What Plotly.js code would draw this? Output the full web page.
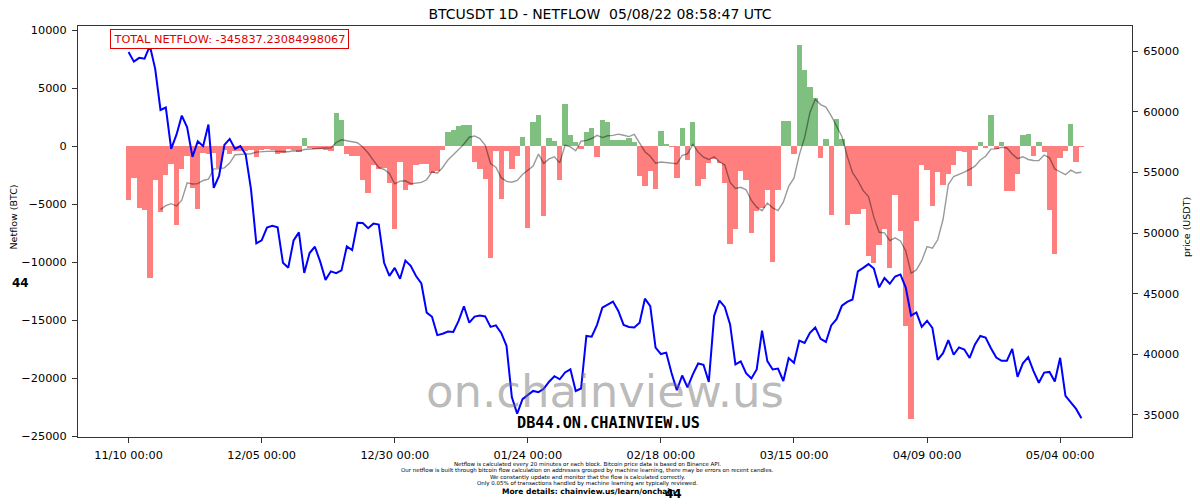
<!DOCTYPE html>
<html>
<head>
<meta charset="utf-8">
<script src="https://cdn.plot.ly/plotly-3.0.1.min.js"></script>
<style>
  html, body { margin: 0; padding: 0; background: #ffffff; }
  #chart { width: 1200px; height: 504px; }
</style>
</head>
<body>
<div id="chart"></div>
<script>
// Daily candles, first one opens 2021-11-10 00:00 UTC
const firstDay = [2021, 10, 10]; // year, month (0-based), day

// Exchange netflow per day (BTC)
const netflow = [
  -4650, -2700, -5350, -5460, -11380, -2870, -5630, -2440, -1490, -6780,
  -1930, -860, -3620, -5400, -575, -650, -600, -1900, -300, -700,
  -400, -450, -400, -350, -950, -300, -250, -350, -630, -600,
  -200, -350, -520, 700, -150, -250, -200, -300, -400, 2870,
  2300, -690, -800, -850, -2900, -4020, -1600, -1950, -1900, -3160,
  -7100, -1320, -3800, -3360, -1580, -1500, -1550, -2300, -2150, -350,
  1200, 1400, 1720, 1820, 1800, -1380, -1950, -2820, -9630, -430,
  -4540, -430, -1930, -860, 800, -7070, 2070, 2700, -6030, 720,
  430, -2870, 3680, 950, 350, -230, 1240, 1550, -950, 2300,
  2070, 575, 530, 560, 720, 345, -2590, -3450, -2150, -3680,
  1290, 230, -60, -2760, 1610, -1200, 2070, -3450, -2820, -1440,
  -1090, -1440, -3160, -8390, -7130, -2100, -2930, -7470, -5550, -5300,
  -3800, -10000, -3800, 2150, 2150, -630, 8760, 6610, 5090, 4170,
  -1000, 630, -5950, 2360, 630, -6780, -5830, -5830, -5400, -9480,
  -10060, -8480, -7130, -10490, -4220, -7270, -15520, -23480, -6470, -1580,
  -2010, -5110, -2240, -3300, -2400, -1600, -430, -520, -3450, -290,
  400, -140, 2670, -230, 400, -3880, -3880, -2390, 980, 1030,
  -860, 345, -520, -5460, -9250, -1000, -430, 1900, -1380, -60
];

// BTCUSDT daily price (USDT)
const price = [
  64949, 64155, 64469, 64398, 65466, 63557, 60161, 60368, 56942, 58119,
  59697, 58730, 56289, 57570, 57176, 58960, 53726, 54721, 57274, 57776,
  56951, 57184, 56481, 53601, 49152, 49396, 50441, 50589, 50472, 47545,
  47140, 49389, 50053, 46702, 48343, 48864, 47632, 46131, 46834, 46681,
  46914, 48889, 48588, 50838, 50820, 50399, 50775, 50701, 47543, 46464,
  47120, 46216, 47722, 47286, 46446, 45833, 43425, 43082, 41566, 41679,
  41864, 41822, 42735, 43949, 42592, 43099, 43177, 43113, 42250, 42375,
  41744, 40680, 36445, 35071, 36276, 36654, 36954, 36852, 37138, 37713,
  38170, 37917, 38483, 38743, 36952, 37154, 41500, 41441, 42412, 43840,
  44118, 44338, 43565, 42407, 42244, 42197, 42586, 44575, 43961, 40538,
  40000, 40118, 38431, 37017, 38230, 37250, 38328, 39219, 39116, 37700,
  43160, 44421, 43892, 42455, 39148, 39398, 38420, 37988, 38730, 41941,
  39422, 38730, 38807, 37777, 39671, 39280, 41114, 40917, 41757, 42201,
  41262, 41002, 42364, 42882, 43991, 44313, 44511, 46827, 47122, 47434,
  47067, 45510, 46283, 45811, 46407, 46580, 45497, 43170, 43444, 42252,
  42753, 42158, 39530, 40074, 41147, 39942, 40552, 40378, 39678, 40801,
  41494, 41358, 40480, 39709, 39441, 39450, 40426, 38112, 39235, 39742,
  38596, 37630, 38469, 38525, 37728, 39690, 36552, 36013, 35472, 34700
];

const tickDates = ['2021-11-10', '2021-12-05', '2021-12-30', '2022-01-24',
                   '2022-02-18', '2022-03-15', '2022-04-09', '2022-05-04'];
const tickLabels = ['11/10 00:00', '12/05 00:00', '12/30 00:00', '01/24 00:00',
                    '02/18 00:00', '03/15 00:00', '04/09 00:00', '05/04 00:00'];
const netflowTicks = [10000, 5000, 0, -5000, -10000, -15000, -20000, -25000];
const priceTicks = [35000, 40000, 45000, 50000, 55000, 60000, 65000];

const titleText = 'BTCUSDT 1D - NETFLOW \u00a005/08/22 08:58:47 UTC';
const totalLabel = 'TOTAL NETFLOW: -345837.23084998067';
const footerLines = [
  'Netflow is calculated every 20 minutes or each block. Bitcoin price data is based on Binance API.',
  'Our netflow is built through bitcoin flow calculation on addresses grouped by machine learning, there may be errors on recent candles.',
  'We constantly update and monitor that the flow is calculated correctly.',
  'Only 0.05% of transactions handled by machine learning are typically reviewed.'
];
const moreDetails = 'More details: chainview.us/learn/onchain';
const maWindow = 7;

// timestamps for each candle
const days = netflow.map((_, i) => {
  const d = new Date(Date.UTC(firstDay[0], firstDay[1], firstDay[2] + i));
  return d.toISOString().slice(0, 10);
});

// trailing moving average of the netflow
const maX = [], maY = [];
for (let i = maWindow - 1; i < netflow.length; i++) {
  let s = 0;
  for (let k = i - maWindow + 1; k <= i; k++) s += netflow[k];
  maX.push(days[i]);
  maY.push(s / maWindow);
}

const barColors = netflow.map(v => (v < 0 ? '#ff7f7f' : '#7fbf7f'));

// plain integer tick labels with a true minus sign, no digit grouping
const plainLabel = v => String(v).replace('-', '\u2212');

// plot box in page pixels
const plotL = 78, plotR = 1132, plotT = 26, plotB = 437;
const fx = x => (x - plotL) / (plotR - plotL);
const fy = y => (plotB - y) / (plotB - plotT);

const FONT = 'DejaVu Sans, sans-serif';
const axisColor = '#333333';

const traces = [
  {
    type: 'bar', x: days, y: netflow, width: 86400000,
    marker: { color: barColors, line: { width: 0 } },
    xaxis: 'x', yaxis: 'y', hoverinfo: 'skip'
  },
  {
    type: 'scatter', mode: 'lines', x: maX, y: maY,
    line: { color: 'rgba(0,0,0,0.4)', width: 1.4 },
    xaxis: 'x', yaxis: 'y', hoverinfo: 'skip'
  },
  {
    type: 'scatter', mode: 'lines', x: days, y: price,
    line: { color: '#0000ff', width: 2 },
    xaxis: 'x', yaxis: 'y2', hoverinfo: 'skip'
  }
];

function note(text, x, y, opts) {
  return Object.assign({
    text: text, xref: 'paper', yref: 'paper', x: fx(x), y: fy(y),
    xanchor: 'center', yanchor: 'middle', showarrow: false,
    font: { family: FONT, size: 10, color: '#000000' }
  }, opts || {});
}

const annotations = [
  note(totalLabel, 229, 38.8, {
    font: { family: FONT, size: 11.3, color: '#e00000' },
    bordercolor: '#e00000', borderwidth: 1, borderpad: 2.5, bgcolor: '#ffffff'
  }),
  note('on.chainview.us', 605, 391, {
    font: { family: FONT, size: 45, color: 'rgba(110,110,110,0.48)' }
  }),
  note('DB44.ON.CHAINVIEW.US', 608, 422.5, {
    font: { family: 'DejaVu Sans Mono, monospace', size: 15.2, color: '#000000', weight: 'bold' }
  }),
  note('Netflow (BTC)', 13, 217.5, {
    textangle: -90, font: { family: FONT, size: 9.5, color: '#000000' }
  }),
  note('price (USDT)', 1186.5, 227.5, {
    textangle: -90, font: { family: FONT, size: 9.5, color: '#000000' }
  }),
  note('44', 20, 283, { font: { family: FONT, size: 12, color: '#000000', weight: 'bold' } }),
  note(footerLines[0], 587, 464.3, { font: { family: FONT, size: 5.5, color: '#000000' } }),
  note(footerLines[1], 587, 470.8, { font: { family: FONT, size: 5.5, color: '#000000' } }),
  note(footerLines[2], 587, 477.3, { font: { family: FONT, size: 5.5, color: '#000000' } }),
  note(footerLines[3], 587, 483.7, { font: { family: FONT, size: 5.5, color: '#000000' } }),
  note(moreDetails, 588, 491.7, { font: { family: FONT, size: 7.5, color: '#000000', weight: 'bold' } }),
  note('44', 673.5, 494, { font: { family: FONT, size: 12, color: '#000000', weight: 'bold' } })
];

const baseAxis = {
  showgrid: false, zeroline: false, showline: true,
  linecolor: axisColor, linewidth: 1,
  ticks: 'outside', ticklen: 5, tickwidth: 1, tickcolor: axisColor,
  tickfont: { family: FONT, size: 11.3, color: '#000000' }
};

const layout = {
  width: 1200, height: 504,
  margin: { l: plotL, r: 1200 - plotR, t: plotT, b: 504 - plotB, pad: 0 },
  paper_bgcolor: '#ffffff', plot_bgcolor: '#ffffff',
  showlegend: false, bargap: 0,
  title: {
    text: titleText, xref: 'container', yref: 'container',
    x: 0.5, y: 1 - 14 / 504, xanchor: 'center', yanchor: 'middle',
    font: { family: FONT, size: 14, color: '#000000' }
  },
  xaxis: Object.assign({}, baseAxis, {
    type: 'date', range: ['2021-10-31 12:00', '2022-05-17 12:00'],
    tickmode: 'array', tickvals: tickDates, ticktext: tickLabels,
    mirror: true, ticklabelstandoff: 2
  }),
  yaxis: Object.assign({}, baseAxis, {
    range: [-25050, 10360], tickmode: 'array', tickvals: netflowTicks,
    ticktext: netflowTicks.map(plainLabel), mirror: true,
    ticklabelstandoff: 3
  }),
  yaxis2: Object.assign({}, baseAxis, {
    overlaying: 'y', side: 'right', anchor: 'x',
    range: [33150, 67100], tickmode: 'array', tickvals: priceTicks,
    ticktext: priceTicks.map(plainLabel),
    ticklabelstandoff: 3
  }),
  annotations: annotations
};

Plotly.newPlot('chart', traces, layout, { staticPlot: true, displayModeBar: false });
</script>
</body>
</html>
